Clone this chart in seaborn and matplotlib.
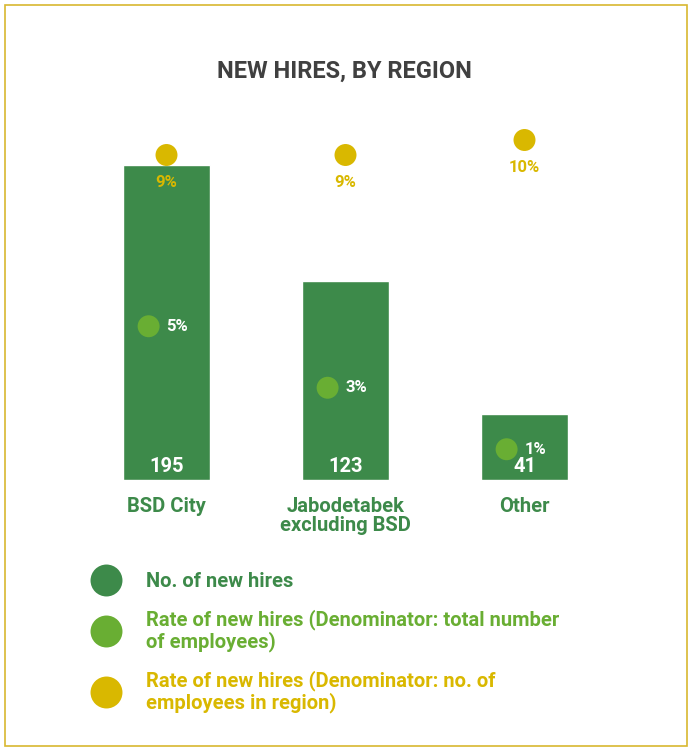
import numpy as np
import pandas as pd
import seaborn as sns
import matplotlib.pyplot as plt
from matplotlib.lines import Line2D
from matplotlib.patches import Rectangle

# data
regions = ['BSD City', 'Jabodetabek\nexcluding BSD', 'Other']
new_hires = [195, 123, 41]
rate_total = [5, 3, 1]        # % of total employees
rate_region = [9, 9, 10]      # % of employees in region

legend_labels = ['No. of new hires',
                 'Rate of new hires (Denominator: total number\nof employees)',
                 'Rate of new hires (Denominator: no. of\nemployees in region)']

dark_green = '#3d8a4a'
light_green = '#69ae33'
yellow = '#d9b800'
title_grey = '#404040'

sns.set_theme(style='white')
plt.rcParams['font.family'] = ['Roboto', 'DejaVu Sans']

df = pd.DataFrame({'region': regions, 'hires': new_hires,
                   'rate_total': rate_total, 'rate_region': rate_region})
df['pos'] = np.arange(len(df))

fig = plt.figure(figsize=(6.88, 7.47), dpi=100)
ax = fig.add_axes([77 / 688, 267 / 747, 537 / 688, 360 / 747])

sns.barplot(data=df, x='region', y='hires', color=dark_green, saturation=1,
            width=0.486, ax=ax)
ax.set_xlim(-0.5, 2.5)
ax.set_ylim(0, 360 / 1.615)

for i, v in enumerate(new_hires):
    ax.annotate(str(v), (i, 0), xytext=(0, 10), textcoords='offset points',
                ha='center', va='center', color='white', fontsize=14.5,
                fontweight='bold')

# light green rate (total employees)
ax2 = ax.twinx()
ax2.set_ylim(0, 360 / 30.75)
sns.scatterplot(x=df['pos'] - 0.1, y=df['rate_total'], color=light_green,
                s=250, edgecolor='none', ax=ax2, zorder=5)
for i, r in enumerate(rate_total):
    ax2.text(i, r, f'{r}%', ha='left', va='center', color='white',
             fontsize=12, fontweight='bold')

# yellow rate (employees in region)
ax3 = ax.twinx()
ax3.set_ylim(-190 / 15, 170 / 15)
sns.scatterplot(x=df['pos'], y=df['rate_region'], color=yellow, s=250,
                edgecolor='none', ax=ax3, zorder=5, clip_on=False)
for i, r in enumerate(rate_region):
    ax3.annotate(f'{r}%', (i, r), xytext=(0, -20), textcoords='offset points',
                 ha='center', va='center', color=yellow, fontsize=12,
                 fontweight='bold')

for a in (ax, ax2, ax3):
    a.set_xlim(-0.5, 2.5)
    a.set_ylabel('')
    a.set_xlabel('')
    a.set_yticks([])
    a.patch.set_alpha(0)
    for s in a.spines.values():
        s.set_visible(False)

ax.set_xticks(range(len(regions)))
ax.set_xticklabels(regions, fontsize=14.5, fontweight='bold', color=dark_green,
                   linespacing=1.0)
ax.tick_params(axis='x', length=0, pad=12, labelbottom=True)
for a in (ax2, ax3):
    a.tick_params(axis='x', length=0, labelbottom=False, labeltop=False)

fig.text(0.5, 1 - 71 / 747, 'NEW HIRES, BY REGION', ha='center', va='center',
         fontsize=17, fontweight='bold', color=title_grey)

# legend
colors = [dark_green, light_green, yellow]
handles = [Line2D([], [], marker='o', linestyle='none', markersize=23,
                  markerfacecolor=c, markeredgecolor='none') for c in colors]
leg = fig.legend(handles, legend_labels, loc='upper left',
                 bbox_to_anchor=(86 / 688, 1 - 572 / 747), frameon=False,
                 fontsize=14.5, handletextpad=1.0, labelspacing=0.9,
                 borderpad=0, borderaxespad=0)
for t, c in zip(leg.get_texts(), colors):
    t.set_color(c)
    t.set_fontweight('bold')
    t.set_linespacing(1.1)

fig.patches.append(Rectangle((5 / 688, 1 / 747), 682 / 688, 741 / 747,
                             transform=fig.transFigure, fill=False,
                             edgecolor='#d8b830', linewidth=1.2))

fig.savefig('out.png', dpi=100)
